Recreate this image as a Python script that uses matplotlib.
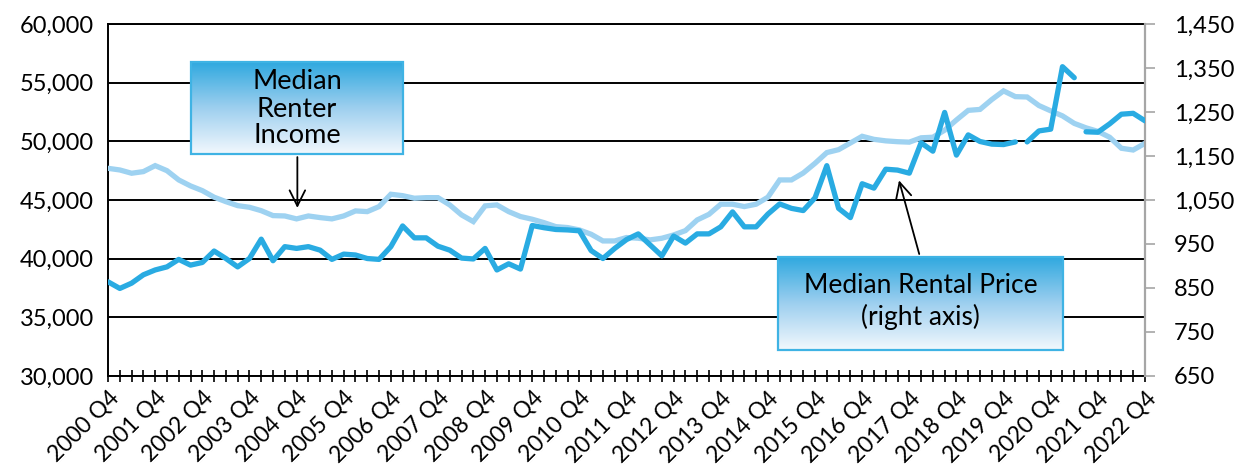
import numpy as np
import matplotlib.pyplot as plt
from matplotlib.colors import LinearSegmentedColormap
from matplotlib.patches import Rectangle
from matplotlib.ticker import FuncFormatter

plt.rcParams['font.family'] = ['Lato', 'DejaVu Sans']

# quarters 2000 Q4 .. 2022 Q4
quarters = ['2000 Q4'] + [f'{y} Q{q}' for y in range(2001, 2023) for q in (1, 2, 3, 4)]

# median renter income (left axis)
income = [47700, 47560, 47280, 47420, 47930, 47500, 46710, 46200, 45800, 45240,
          44860, 44520, 44380, 44090, 43670, 43640, 43390, 43640, 43500, 43390,
          43640, 44070, 44010, 44440, 45490, 45370, 45150, 45200, 45200, 44580,
          43730, 43160, 44500, 44580, 44010, 43590, 43360, 43070, 42730, 42650,
          42450, 42080, 41510, 41510, 41800, 41740, 41600, 41740, 42020, 42390,
          43300, 43780, 44640, 44640, 44440, 44640, 45240, 46710, 46710, 47300,
          48130, 49040, 49290, 49860, 50430, 50170, 50040, 49970, 49930, 50300,
          50350, 50950, 51820, 52640, 52720, 53560, 54300, 53810, 53780, 53050,
          52600, 52170, 51530, 51150, 50850, 50350, 49410, 49260, 49830]

# median rental price (right axis)
rent = [864, 849, 861, 880, 891, 898, 915, 902, 908, 934,
        917, 898, 917, 961, 912, 944, 940, 944, 936, 915,
        927, 925, 917, 915, 944, 991, 964, 964, 945, 936,
        918, 916, 940, 891, 905, 893, 992, 987, 983, 982,
        980, 935, 917, 940, 960, 973, 948, 923, 968, 952,
        973, 973, 989, 1023, 989, 989, 1018, 1041, 1031, 1026,
        1055, 1128, 1031, 1010, 1087, 1077, 1120, 1118, 1111, 1180,
        1161, 1249, 1152, 1198, 1183, 1177, 1176, 1182, 1182, 1207,
        1211, 1353, 1328, 1205, 1204, 1223, 1245, 1247, 1230]
# the rent line is drawn in separate pieces starting at these indices
rent_breaks = [0, 78, 83, len(rent)]

left_ticks = list(range(30000, 60001, 5000))
right_ticks = list(range(650, 1451, 100))

light = '#9ED2F1'
dark = '#29ABE2'

fig = plt.figure(figsize=(12.39, 4.68), dpi=100)
ax = fig.add_axes([0.0872, 0.1966, 0.8369, 0.7521])
ax2 = ax.twinx()

x = np.arange(len(quarters))
ax.plot(x, income, color=light, lw=3.8, solid_joinstyle='miter', zorder=3)
for a, b in zip(rent_breaks[:-1], rent_breaks[1:]):
    ax2.plot(x[a:b], rent[a:b], color=dark, lw=3.8, solid_capstyle='round', zorder=3)

ax.set_xlim(0, len(quarters) - 1)
ax.set_ylim(30000, 60000)
ax2.set_ylim(650, 1450)
ax.set_yticks(left_ticks)
ax2.set_yticks(right_ticks)
ax.yaxis.set_major_formatter(FuncFormatter(lambda v, p: f'{int(v):,}'))
ax2.yaxis.set_major_formatter(FuncFormatter(lambda v, p: f'{int(v):,}'))

ax.set_xticks(x)
ax.set_xticklabels([q if i % 4 == 0 else '' for i, q in enumerate(quarters)],
                   rotation=45, ha='right', rotation_mode='anchor')
ax.tick_params(axis='x', direction='inout', length=8, width=1.2, labelsize=16.5, pad=4)
ax.tick_params(axis='y', length=0, labelsize=17, pad=10)
ax2.tick_params(axis='y', length=7, width=1.2, color='#A6A6A6', labelsize=17, pad=14)

ax.yaxis.grid(True, color='black', lw=1.4)
ax.set_axisbelow(True)
for s in ['left', 'bottom', 'top']:
    ax.spines[s].set_linewidth(1.4)
ax.spines['right'].set_visible(False)
for s in ['left', 'bottom', 'top']:
    ax2.spines[s].set_visible(False)
ax2.spines['right'].set_color('#A6A6A6')
ax2.spines['right'].set_linewidth(1.6)

# gradient callout boxes
grad = LinearSegmentedColormap.from_list('g', ['#F2F8FD', '#9DCFEF', '#2EA8DF'])


def callout(rect, lines, baselines, size):
    bax = fig.add_axes(rect)
    bax.imshow(np.linspace(0, 1, 200).reshape(-1, 1), cmap=grad, origin='lower',
               aspect='auto', extent=[0, 1, 0, 1])
    bax.set_xlim(0, 1)
    bax.set_ylim(0, 1)
    bax.axis('off')
    bax.add_patch(Rectangle((0, 0), 1, 1, transform=bax.transAxes, fill=False,
                            ec='#3FB3E4', lw=1.6, clip_on=False))
    for t, yb in zip(lines, baselines):
        bax.text(0.5, yb, t, ha='center', va='baseline', fontsize=size, color='black')


callout([0.1539, 0.6703, 0.1716, 0.1966], ['Median', 'Renter', 'Income'],
        [0.707, 0.409, 0.120], 19.5)
callout([0.6282, 0.2521, 0.2300, 0.1994], ['Median Rental Price', '(right axis)'],
        [0.608, 0.268], 19)

ax2.annotate('', xy=(0.2400, 0.5498), xytext=(0.2400, 0.6703),
             xycoords='figure fraction', textcoords='figure fraction',
             arrowprops=dict(arrowstyle='->', color='black', lw=1.3, mutation_scale=28))
ax2.annotate('', xy=(0.7250, 0.6203), xytext=(0.7425, 0.4515),
             xycoords='figure fraction', textcoords='figure fraction',
             arrowprops=dict(arrowstyle='->', color='black', lw=1.3, mutation_scale=28))

fig.savefig('out.png', dpi=100)
